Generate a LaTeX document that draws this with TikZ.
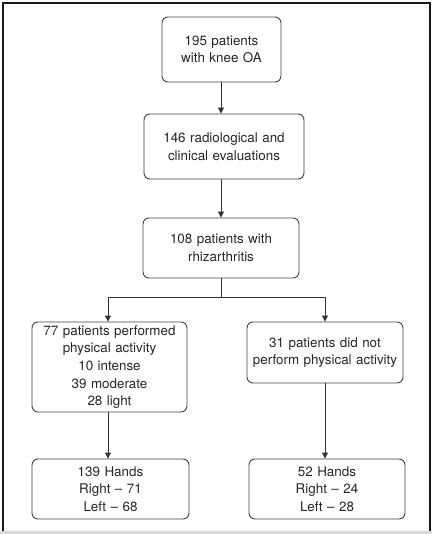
\documentclass[tikz,border=0pt]{standalone}
\usepackage{fontspec}
\setmainfont{TeX Gyre Heros}
\usetikzlibrary{arrows.meta}
\begin{document}
\begin{tikzpicture}[x=1pt,y=-1pt,
  box/.style={draw=black!75, line width=0.9pt, rounded corners=6pt, inner sep=0pt, align=center,
    font=\fontsize{13.4}{17.7}\selectfont, text=black!85},
  conn/.style={draw=black!80, line width=1pt},
  arr/.style={conn, -{Triangle[length=6pt,width=6pt]}}]
\useasboundingbox (0,0) rectangle (432,534);
\fill[black!15] (0,531) rectangle (432,534);
\draw[line width=1.2pt, black!90] (3,531) -- (3,3) -- (430,3) -- (430,531);
\node[box, minimum width=119pt, minimum height=65pt, text width=119pt] (b1) at (221.5,49.5) {195 patients\\with knee OA};
\node[box, minimum width=160pt, minimum height=65pt, text width=160pt] (b2) at (224,146.5) {146 radiological and\\clinical evaluations};
\node[box, minimum width=156pt, minimum height=60pt, text width=156pt] (b3) at (221,248) {108 patients with\\rhizarthritis};
\node[box, minimum width=155pt, minimum height=90pt, text width=155pt] (b4) at (109.5,367) {77 patients performed\\physical activity\\10 intense\\39 moderate\\28 light};
\node[box, minimum width=156pt, minimum height=61pt, text width=156pt] (b5) at (325,352.5) {31 patients did not\\perform physical activity};
\node[box, minimum width=157pt, minimum height=60pt, text width=157pt] (b6) at (110.5,489) {139 Hands\\Right -- 71\\Left -- 68};
\node[box, minimum width=156pt, minimum height=60pt, text width=156pt] (b7) at (327,489) {52 Hands\\Right -- 24\\Left -- 28};
\coordinate (split) at (221,297);
\coordinate (sl) at (108,297);
\coordinate (sr) at (325,297);
\draw[arr] (b1.south -| 221,0) -- (b2.north -| 221,0);
\draw[arr] (b2.south -| 221,0) -- (b3.north -| 221,0);
\draw[conn] (b3.south -| split) -- (split);
\draw[arr] (split) -- (sl) -- (b4.north -| sl);
\draw[arr] (split) -- (sr) -- (b5.north -| sr);
\draw[arr] (b4.south -| sl) -- (b6.north -| sl);
\draw[arr] (b5.south -| sr) -- (b7.north -| sr);
\end{tikzpicture}
\end{document}
